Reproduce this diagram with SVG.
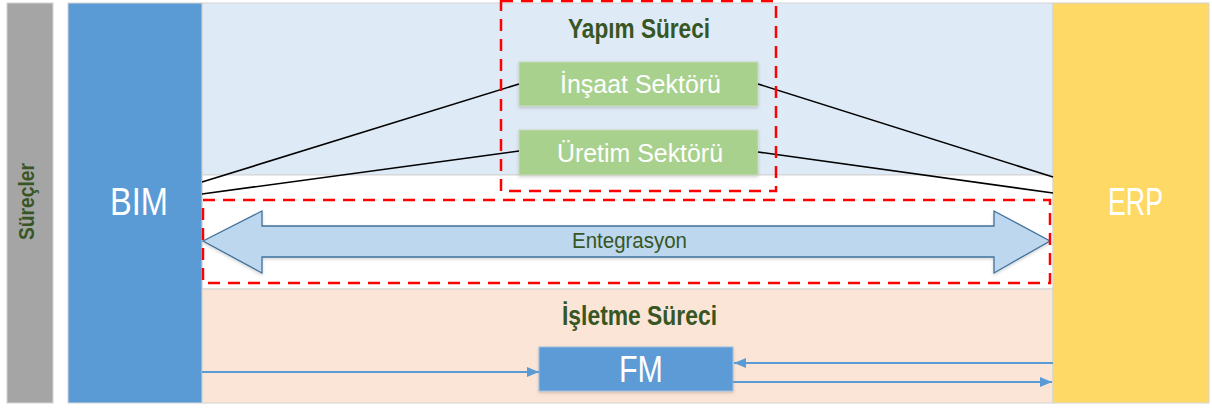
<svg xmlns="http://www.w3.org/2000/svg" width="1212" height="408" viewBox="0 0 1212 408">
  <style>
    .lane { stroke: #d4d4d4; stroke-width: 1; }
    .white { fill: #ffffff; font-family: "Liberation Sans", Arial, sans-serif; }
    .title { fill: #375623; font-family: "Liberation Sans", Arial, sans-serif; font-weight: bold; }
    .dash { fill: none; stroke: #ff0000; stroke-width: 2.5; stroke-dasharray: 12 8; }
    .tie { stroke: #000000; stroke-width: 1.6; fill: none; }
    .flow { stroke: #5b9bd5; stroke-width: 1.8; fill: none; }
  </style>
  <defs>
    <marker id="head" viewBox="0 0 12 10" refX="12" refY="5" markerWidth="12" markerHeight="10" markerUnits="userSpaceOnUse" orient="auto">
      <path d="M0,0 L12,5 L0,10 Z" fill="#5b9bd5"/>
    </marker>
    <filter id="soft" x="-5%" y="-5%" width="110%" height="120%">
      <feDropShadow dx="0" dy="1.5" stdDeviation="1.5" flood-color="#000" flood-opacity="0.18"/>
    </filter>
  </defs>

  <rect width="1212" height="408" fill="#ffffff"/>

  <!-- background bands -->
  <g id="bands">
    <rect x="202" y="3" width="851" height="172" fill="#deeaf6" class="lane"/>
    <rect x="202" y="175" width="851" height="114" fill="#ffffff" class="lane"/>
    <rect x="202" y="289" width="851" height="114" fill="#fbe5d6" class="lane"/>
  </g>

  <!-- processes label column -->
  <g id="surecler">
    <rect x="7" y="3" width="46" height="400" fill="#a5a5a5" class="lane"/>
    <text class="title" font-size="22" transform="translate(34,240) rotate(-90)" textLength="77" lengthAdjust="spacingAndGlyphs">Süreçler</text>
  </g>

  <!-- BIM -->
  <g id="bim">
    <rect x="68" y="3" width="134" height="400" fill="#5b9bd5" class="lane"/>
    <text class="white" x="110" y="215" font-size="39" textLength="58" lengthAdjust="spacingAndGlyphs">BIM</text>
  </g>

  <!-- ERP -->
  <g id="erp">
    <rect x="1053" y="3" width="156" height="400" fill="#ffd966" class="lane"/>
    <text class="white" x="1108" y="215" font-size="38" textLength="55" lengthAdjust="spacingAndGlyphs">ERP</text>
  </g>

  <!-- construction process -->
  <g id="yapim">
    <text class="title" x="568" y="38" font-size="27" textLength="142" lengthAdjust="spacingAndGlyphs">Yapım Süreci</text>
  </g>
  <g id="insaat">
    <rect x="519" y="62" width="239" height="44" fill="#a9d18e" stroke="#c9d9bd" stroke-width="1" filter="url(#soft)"/>
    <text class="white" x="560" y="93" font-size="26" textLength="161" lengthAdjust="spacingAndGlyphs">İnşaat Sektörü</text>
  </g>
  <g id="uretim">
    <rect x="519" y="130" width="239" height="45" fill="#a9d18e" stroke="#c9d9bd" stroke-width="1" filter="url(#soft)"/>
    <text class="white" x="557" y="162" font-size="26" textLength="166" lengthAdjust="spacingAndGlyphs">Üretim Sektörü</text>
  </g>

  <!-- operation process -->
  <g id="isletme">
    <text class="title" x="562" y="325" font-size="27" textLength="155" lengthAdjust="spacingAndGlyphs">İşletme Süreci</text>
  </g>
  <g id="fm">
    <rect x="539" y="347" width="194" height="44" fill="#5b9bd5" stroke="#9dbfe0" stroke-width="1" filter="url(#soft)"/>
    <text class="white" x="619" y="382" font-size="37" textLength="44" lengthAdjust="spacingAndGlyphs">FM</text>
  </g>

  <!-- integration arrow -->
  <g id="entegrasyon">
    <path d="M203,241 L262,211 L262,226 L994,226 L994,211 L1050,241 L994,273 L994,257 L262,257 L262,273 Z" fill="#bdd7ee" stroke="#41719c" stroke-width="1.3" filter="url(#soft)"/>
    <text x="572" y="248" font-family="Liberation Sans, Arial, sans-serif" font-size="22" fill="#375623" textLength="115" lengthAdjust="spacingAndGlyphs">Entegrasyon</text>
  </g>

  <!-- connectors -->
  <g id="connectors">
    <line class="tie" x1="202" y1="182" x2="519" y2="84"/>
    <line class="tie" x1="202" y1="194" x2="519" y2="151"/>
    <line class="tie" x1="758" y1="84" x2="1053" y2="177"/>
    <line class="tie" x1="758" y1="152" x2="1053" y2="193"/>
    <line class="flow" x1="202" y1="372" x2="539" y2="372" marker-end="url(#head)"/>
    <line class="flow" x1="1053" y1="363" x2="734" y2="363" marker-end="url(#head)"/>
    <line class="flow" x1="733" y1="382" x2="1052" y2="382" marker-end="url(#head)"/>
  </g>

  <!-- dashed grouping frames -->
  <g id="frames">
    <rect class="dash" x="501" y="1" width="275" height="190"/>
    <rect class="dash" x="203" y="200" width="847" height="83"/>
  </g>
</svg>
